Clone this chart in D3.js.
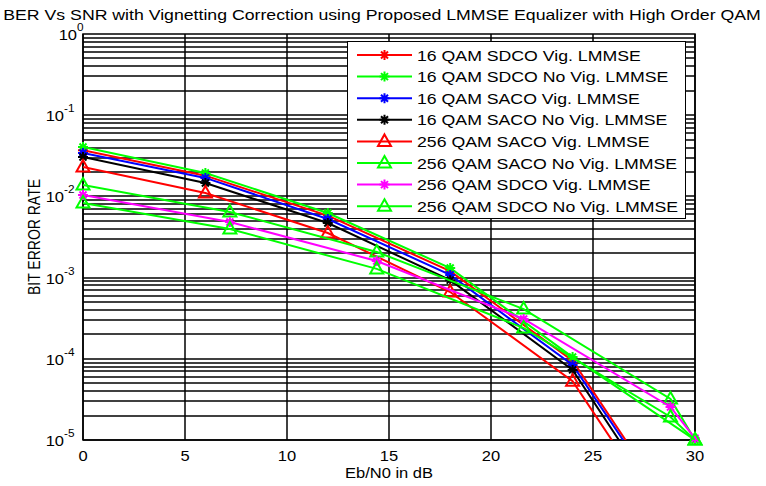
<!DOCTYPE html>
<html><head><meta charset="utf-8">
<script src="https://cdn.jsdelivr.net/npm/d3@7/dist/d3.min.js"></script>
<style>body{margin:0;background:#fff}svg{display:block}</style>
</head><body>
<script>
// ---- data ----
const xTicks = [0, 5, 10, 15, 20, 25, 30];
const yTickExp = [0, -1, -2, -3, -4, -5];
const x16 = [0, 6, 12, 18, 24, 30];
const x256 = [0, 7.2, 14.4, 21.6, 28.8, 30];
const qam16SdcoVig   = [0.037, 0.0180, 0.0058, 0.00120, 9.5e-5, 5.2e-7];
const qam16SdcoNoVig = [0.0406, 0.0194, 0.00625, 0.00131, 1.05e-4, 1.0e-5];
const qam16SacoVig   = [0.0342, 0.0169, 0.00527, 0.00108, 8.4e-5, 4.8e-7];
const qam16SacoNoVig = [0.0306, 0.0146, 0.00470, 0.00093, 7.3e-5, 3.8e-7];
const qam256SacoVig   = [0.0230, 0.0110, 0.00354, 0.000665, 5.3e-5, 2.9e-7];
const qam256SacoNoVig = [0.0138, 0.00643, 0.00207, 0.00041, 3.2e-5, 1.0e-5];
const qam256SdcoVig   = [0.0104, 0.00484, 0.00160, 0.000309, 2.55e-5, 1.05e-5];
const qam256SdcoNoVig = [0.0083, 0.00397, 0.00128, 0.000239, 1.92e-5, 1.0e-5];
const seriesNames = ["16 QAM SDCO Vig. LMMSE","16 QAM SDCO No Vig. LMMSE","16 QAM SACO Vig. LMMSE","16 QAM SACO No Vig. LMMSE",
  "256 QAM SACO Vig. LMMSE","256 QAM SACO No Vig. LMMSE","256 QAM SDCO Vig. LMMSE","256 QAM SDCO No Vig. LMMSE"];
const titleText = "BER Vs SNR with Vignetting Correction using Proposed LMMSE Equalizer with High Order QAM";

const series = [
  {name: seriesNames[0], x: x16, y: qam16SdcoVig, color: "#ff0000", marker: "star"},
  {name: seriesNames[1], x: x16, y: qam16SdcoNoVig, color: "#00ff00", marker: "star"},
  {name: seriesNames[2], x: x16, y: qam16SacoVig, color: "#0000ff", marker: "star"},
  {name: seriesNames[3], x: x16, y: qam16SacoNoVig, color: "#000000", marker: "star"},
  {name: seriesNames[4], x: x16, y: qam256SacoVig, color: "#ff0000", marker: "tri"},
  {name: seriesNames[5], x: x256, y: qam256SacoNoVig, color: "#00ff00", marker: "tri"},
  {name: seriesNames[6], x: x256, y: qam256SdcoVig, color: "#ff00ff", marker: "star"},
  {name: seriesNames[7], x: x256, y: qam256SdcoNoVig, color: "#00ff00", marker: "tri"},
];

// ---- layout ----
const W = 766, H = 486;
const L = 83, R = 695, T = 34, B = 440;
const SX = 1.18; // horizontal text stretch
const FONT = "'Liberation Sans', Arial, Helvetica, sans-serif";

const svg = d3.select("body").append("svg").attr("width", W).attr("height", H);
const x = d3.scaleLinear().domain([0, 30]).range([L, R]);
const y = d3.scaleLog().domain([1e-5, 1]).range([B, T]);

function stext(g, tx, ty, str, size, anchor) {
  return g.append("text").attr("transform", `translate(${tx},${ty}) scale(${SX},1)`)
    .attr("font-family", FONT).attr("font-size", size).attr("text-anchor", anchor || "start")
    .attr("fill", "#000").text(str);
}

// grid
const grid = svg.append("g");
const minorY = [];
for (let e = -5; e < 0; e++) for (let m = 1; m <= 9; m++) minorY.push(m * Math.pow(10, e));
grid.selectAll("line.h").data(minorY).join("line")
  .attr("x1", L).attr("x2", R).attr("y1", d => Math.round(y(d))).attr("y2", d => Math.round(y(d)))
  .attr("stroke", "#000").attr("stroke-width", 1.5);
grid.selectAll("line.v").data(xTicks).join("line")
  .attr("y1", T).attr("y2", B).attr("x1", d => Math.round(x(d))).attr("x2", d => Math.round(x(d)))
  .attr("stroke", "#000").attr("stroke-width", 1.5);

// box
svg.append("rect").attr("x", L).attr("y", T).attr("width", R - L).attr("height", B - T)
  .attr("fill", "none").attr("stroke", "#000").attr("stroke-width", 1.5);

// clip
svg.append("clipPath").attr("id", "clip").append("rect")
  .attr("x", L).attr("y", T).attr("width", R - L).attr("height", B - T);

const starPath = "M-5,0H5M0,-5V5M-3.5,-3.5L3.5,3.5M-3.5,3.5L3.5,-3.5";
const triPath = "M0,-7L6.5,4.5L-6.5,4.5Z";

const plot = svg.append("g");
const line = d3.line().x(d => x(d[0])).y(d => y(d[1]));
series.forEach(s => {
  const pts = s.x.map((xv, i) => [xv, s.y[i]]);
  plot.append("path").attr("d", line(pts)).attr("clip-path", "url(#clip)")
    .attr("fill", "none").attr("stroke", s.color).attr("stroke-width", 2);
  plot.selectAll(null).data(pts.filter(p => p[1] >= 1e-5 * 0.999 && p[0] <= 30)).join("path")
    .attr("transform", p => `translate(${x(p[0])},${y(p[1])})`)
    .attr("d", s.marker === "star" ? starPath : triPath)
    .attr("fill", "none").attr("stroke", s.color).attr("stroke-width", 2);
});

// ticks labels
const ax = svg.append("g");
xTicks.forEach(t => stext(ax, x(t), 461, String(t), 14, "middle"));
yTickExp.forEach(e => {
  const ty = y(Math.pow(10, e));
  const expStr = e === 0 ? "0" : "-" + Math.abs(e);
  const ex = e === 0 ? 77 : 64;
  stext(ax, ex, ty + 6, "10", 14, "end");
  stext(ax, ex, ty - 3, expStr, 10, "start");
});
stext(ax, x(15), 478, "Eb/N0 in dB", 14, "middle");
ax.append("text").attr("transform", `translate(40,${(T + B) / 2}) rotate(-90) scale(1,${SX})`)
  .attr("font-family", FONT).attr("font-size", 14).attr("text-anchor", "middle").text("BIT ERROR RATE");
// title
stext(svg, 382, 20, titleText, 15, "middle");

// legend
const lg = svg.append("g");
lg.append("rect").attr("x", 347.5).attr("y", 41.5).attr("width", 338).attr("height", 177)
  .attr("fill", "#fff").attr("stroke", "#000").attr("stroke-width", 1);
series.forEach((s, i) => {
  const ry = 55 + i * 21.6;
  lg.append("line").attr("x1", 357).attr("x2", 412).attr("y1", ry).attr("y2", ry)
    .attr("stroke", s.color).attr("stroke-width", 2);
  lg.append("path").attr("transform", `translate(384.5,${ry})`)
    .attr("d", s.marker === "star" ? starPath : triPath)
    .attr("fill", "none").attr("stroke", s.color).attr("stroke-width", 2);
  stext(lg, 417, ry + 5.5, s.name, 15, "start");
});
</script>
</body></html>
